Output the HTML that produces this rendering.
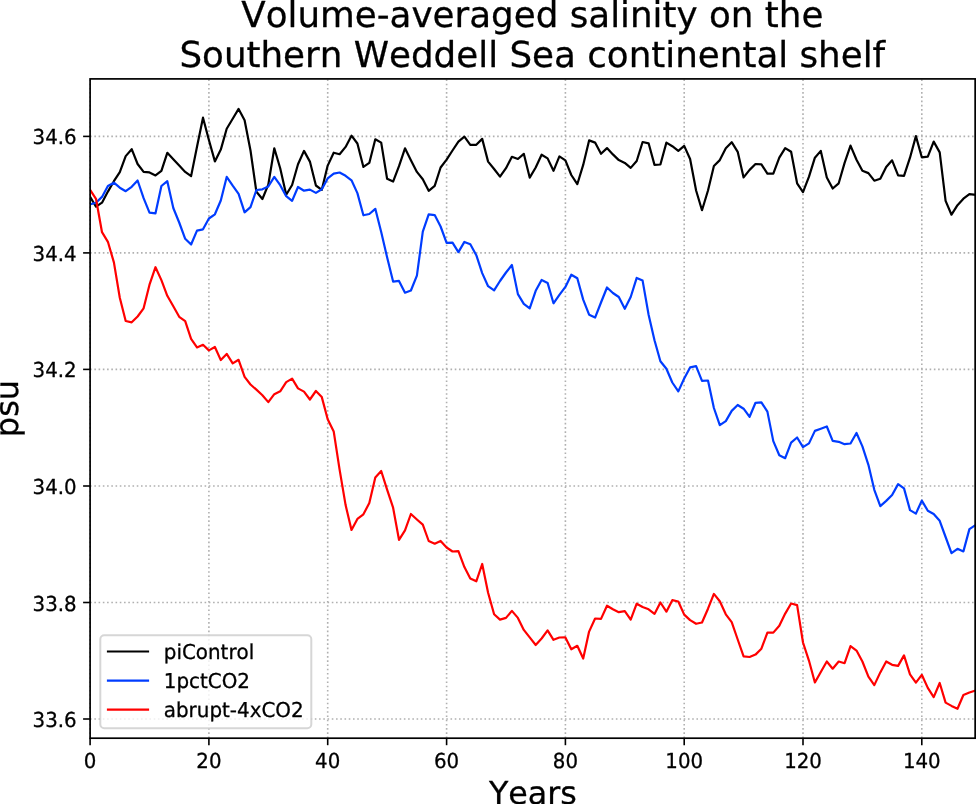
<!DOCTYPE html>
<html><head><meta charset="utf-8"><title>Volume-averaged salinity</title>
<style>html,body{margin:0;padding:0;background:#fff;overflow:hidden}svg{display:block}text{stroke:#000;stroke-width:.3px;text-rendering:geometricPrecision}</style></head>
<body>
<svg width="976" height="804" viewBox="0 0 976 804" style="display:block;font-family:'DejaVu Sans','Liberation Sans',sans-serif;font-kerning:none" stroke-linejoin="round">
<rect width="976" height="804" fill="#fff"/>
<g stroke="#b0b0b0" stroke-width="1.6" stroke-dasharray="1.6 2.64" fill="none"><line x1="90.1" y1="738.2" x2="90.1" y2="78.9"/><line x1="208.9" y1="738.2" x2="208.9" y2="78.9"/><line x1="327.7" y1="738.2" x2="327.7" y2="78.9"/><line x1="446.6" y1="738.2" x2="446.6" y2="78.9"/><line x1="565.4" y1="738.2" x2="565.4" y2="78.9"/><line x1="684.2" y1="738.2" x2="684.2" y2="78.9"/><line x1="803.0" y1="738.2" x2="803.0" y2="78.9"/><line x1="921.8" y1="738.2" x2="921.8" y2="78.9"/><line x1="90.1" y1="719.0" x2="975.15" y2="719.0"/><line x1="90.1" y1="602.5" x2="975.15" y2="602.5"/><line x1="90.1" y1="486.0" x2="975.15" y2="486.0"/><line x1="90.1" y1="369.4" x2="975.15" y2="369.4"/><line x1="90.1" y1="252.9" x2="975.15" y2="252.9"/><line x1="90.1" y1="136.4" x2="975.15" y2="136.4"/></g>
<clipPath id="c"><rect x="90.1" y="78.9" width="885.05" height="659.30"/></clipPath>
<g clip-path="url(#c)">
<polyline points="90.1,196.9 96.0,206.7 102.0,202.7 107.9,191.6 113.9,181.2 119.8,172.1 125.7,156.1 131.7,149.2 137.6,164.0 143.6,171.9 149.5,172.4 155.5,175.4 161.4,170.8 167.3,152.8 173.3,159.3 179.2,165.6 185.2,171.9 191.1,176.1 197.0,146.8 203.0,117.7 208.9,140.0 214.9,161.4 220.8,149.6 226.7,128.8 232.7,118.8 238.6,108.9 244.6,120.3 250.5,150.5 256.4,191.8 262.4,199.0 268.3,184.6 274.3,148.3 280.2,168.2 286.2,194.7 292.1,185.0 298.0,164.3 304.0,150.9 309.9,161.6 315.9,185.5 321.8,189.8 327.7,165.6 333.7,152.7 339.6,154.2 345.6,146.9 351.5,135.7 357.4,143.5 363.4,166.9 369.3,162.9 375.3,139.3 381.2,142.6 387.1,178.7 393.1,181.6 399.0,166.2 405.0,148.3 410.9,160.2 416.9,171.9 422.8,179.3 428.7,190.8 434.7,185.9 440.6,167.5 446.6,159.7 452.5,150.5 458.4,141.7 464.4,136.7 470.3,144.8 476.3,144.8 482.2,138.9 488.1,161.6 494.1,169.0 500.0,176.7 506.0,168.2 511.9,156.8 517.9,159.0 523.8,153.8 529.7,177.6 535.7,167.5 541.6,154.7 547.6,158.4 553.5,170.8 559.4,156.4 565.4,160.3 571.3,175.0 577.3,184.2 583.2,164.9 589.1,140.4 595.1,142.6 601.0,153.8 607.0,148.1 612.9,154.4 618.8,160.1 624.8,162.9 630.7,167.9 636.7,161.0 642.6,142.0 648.6,143.3 654.5,164.9 660.4,164.5 666.4,142.6 672.3,146.2 678.3,150.8 684.2,145.9 690.1,159.0 696.1,190.5 702.0,210.2 708.0,190.5 713.9,166.0 719.8,160.1 725.8,148.3 731.7,142.2 737.7,151.8 743.6,177.4 749.6,169.9 755.5,164.0 761.4,164.3 767.4,173.7 773.3,173.7 779.3,157.7 785.2,148.1 791.1,151.8 797.1,183.3 803.0,192.2 809.0,176.7 814.9,157.7 820.8,150.9 826.8,177.6 832.7,188.5 838.7,183.3 844.6,162.9 850.5,145.6 856.5,159.7 862.4,170.8 868.4,173.1 874.3,180.7 880.3,178.7 886.2,166.9 892.1,160.3 898.1,175.4 904.0,175.8 910.0,157.7 915.9,136.1 921.8,157.3 927.8,156.7 933.7,141.6 939.7,152.4 945.6,200.9 951.5,214.7 957.5,205.2 963.4,198.7 969.4,194.1 975.3,194.7" fill="none" stroke="#000" stroke-width="2.2" stroke-linejoin="round" stroke-linecap="square"/>

<polyline points="90.1,204.4 96.0,202.8 102.0,196.9 107.9,186.0 113.9,182.7 119.8,187.7 125.7,191.2 131.7,186.8 137.6,180.5 143.6,198.2 149.5,212.6 155.5,213.3 161.4,186.0 167.3,181.2 173.3,208.0 179.2,222.5 185.2,238.8 191.1,244.5 197.0,230.6 203.0,229.3 208.9,218.5 214.9,214.3 220.8,200.5 226.7,176.9 232.7,185.7 238.6,193.9 244.6,212.3 250.5,207.1 256.4,190.0 262.4,189.3 268.3,186.5 274.3,176.9 280.2,185.2 286.2,196.2 292.1,200.9 298.0,187.0 304.0,190.7 309.9,189.6 315.9,192.9 321.8,189.3 327.7,178.4 333.7,173.7 339.6,172.5 345.6,175.8 351.5,180.3 357.4,193.1 363.4,215.3 369.3,214.0 375.3,208.8 381.2,232.0 387.1,257.3 393.1,281.6 399.0,280.9 405.0,292.7 410.9,290.5 416.9,275.7 422.8,231.7 428.7,214.4 434.7,215.1 440.6,226.5 446.6,242.9 452.5,242.6 458.4,252.1 464.4,241.9 470.3,244.3 476.3,255.2 482.2,273.1 488.1,286.2 494.1,290.4 500.0,281.0 506.0,272.5 511.9,265.0 517.9,294.1 523.8,303.9 529.7,308.3 535.7,290.8 541.6,279.9 547.6,282.9 553.5,303.3 559.4,294.8 565.4,286.9 571.3,274.7 577.3,278.3 583.2,299.6 589.1,314.7 595.1,317.6 601.0,302.5 607.0,287.5 612.9,293.0 618.8,297.0 624.8,308.8 630.7,297.0 636.7,277.9 642.6,280.6 648.6,314.7 654.5,340.2 660.4,361.2 666.4,368.7 672.3,382.5 678.3,391.4 684.2,378.5 690.1,367.4 696.1,366.1 702.0,380.9 708.0,380.5 713.9,408.0 719.8,425.1 725.8,421.1 731.7,410.9 737.7,405.0 743.6,408.7 749.6,416.8 755.5,402.8 761.4,402.4 767.4,411.6 773.3,441.1 779.3,455.2 785.2,458.2 791.1,442.7 797.1,437.5 803.0,447.1 809.0,443.4 814.9,430.9 820.8,428.7 826.8,426.5 832.7,440.9 838.7,441.8 844.6,444.2 850.5,443.5 856.5,433.0 862.4,446.4 868.4,464.8 874.3,489.8 880.3,506.1 886.2,500.9 892.1,495.0 898.1,484.1 904.0,488.4 910.0,510.1 915.9,513.6 921.8,500.6 927.8,510.7 933.7,514.0 939.7,520.8 945.6,537.0 951.5,553.1 957.5,548.8 963.4,551.4 969.4,529.1 975.3,525.2" fill="none" stroke="#003cff" stroke-width="2.2" stroke-linejoin="round" stroke-linecap="square"/>

<polyline points="90.1,189.9 96.0,198.8 102.0,232.2 107.9,241.8 113.9,262.4 119.8,297.8 125.7,321.0 131.7,322.3 137.6,316.5 143.6,308.3 149.5,284.7 155.5,267.2 161.4,280.1 167.3,295.8 173.3,306.3 179.2,316.8 185.2,321.1 191.1,338.9 197.0,347.4 203.0,344.8 208.9,350.4 214.9,347.0 220.8,360.1 226.7,353.9 232.7,363.4 238.6,359.8 244.6,376.9 250.5,384.5 256.4,389.7 262.4,395.2 268.3,402.1 274.3,394.2 280.2,391.3 286.2,382.1 292.1,378.6 298.0,388.4 304.0,391.6 309.9,399.5 315.9,391.0 321.8,397.1 327.7,419.2 333.7,431.4 339.6,469.7 345.6,505.1 351.5,530.0 357.4,518.9 363.4,514.3 369.3,503.1 375.3,477.5 381.2,471.0 387.1,489.6 393.1,507.7 399.0,539.8 405.0,530.3 410.9,514.0 416.9,519.5 422.8,524.7 428.7,541.0 434.7,543.7 440.6,540.9 446.6,547.5 452.5,551.5 458.4,551.1 464.4,567.1 470.3,578.4 476.3,581.3 482.2,564.0 488.1,592.7 494.1,614.2 500.0,619.6 506.0,617.9 511.9,610.9 517.9,617.9 523.8,629.9 529.7,637.4 535.7,645.0 541.6,638.5 547.6,630.3 553.5,639.8 559.4,637.5 565.4,637.4 571.3,649.3 577.3,645.8 583.2,658.5 589.1,631.6 595.1,618.5 601.0,618.9 607.0,605.7 612.9,609.3 618.8,612.2 624.8,611.2 630.7,619.6 636.7,603.7 642.6,607.0 648.6,609.3 654.5,613.9 660.4,602.5 666.4,611.7 672.3,600.2 678.3,601.5 684.2,614.6 690.1,620.1 696.1,623.8 702.0,622.5 708.0,608.7 713.9,593.9 719.8,601.2 725.8,614.3 731.7,622.2 737.7,639.5 743.6,656.3 749.6,657.0 755.5,654.6 761.4,648.7 767.4,632.6 773.3,632.6 779.3,625.7 785.2,613.6 791.1,603.5 797.1,605.1 803.0,642.5 809.0,660.8 814.9,682.5 820.8,672.0 826.8,661.5 832.7,668.7 838.7,661.5 844.6,663.2 850.5,646.1 856.5,650.6 862.4,661.5 868.4,676.6 874.3,685.1 880.3,672.4 886.2,661.5 892.1,664.8 898.1,665.9 904.0,655.4 910.0,674.4 915.9,682.6 921.8,674.8 927.8,687.9 933.7,697.1 939.7,683.0 945.6,702.6 951.5,705.9 957.5,708.8 963.4,695.0 969.4,692.5 975.3,690.6" fill="none" stroke="#ff0000" stroke-width="2.2" stroke-linejoin="round" stroke-linecap="square"/>

</g>
<rect x="90.1" y="78.9" width="885.05" height="659.30" fill="none" stroke="#000" stroke-width="1.7" stroke-linejoin="miter"/>
<g stroke="#000" stroke-width="1.6"><line x1="90.1" y1="738.2" x2="90.1" y2="745.2"/><line x1="208.9" y1="738.2" x2="208.9" y2="745.2"/><line x1="327.7" y1="738.2" x2="327.7" y2="745.2"/><line x1="446.6" y1="738.2" x2="446.6" y2="745.2"/><line x1="565.4" y1="738.2" x2="565.4" y2="745.2"/><line x1="684.2" y1="738.2" x2="684.2" y2="745.2"/><line x1="803.0" y1="738.2" x2="803.0" y2="745.2"/><line x1="921.8" y1="738.2" x2="921.8" y2="745.2"/><line x1="90.1" y1="719.0" x2="83.1" y2="719.0"/><line x1="90.1" y1="602.5" x2="83.1" y2="602.5"/><line x1="90.1" y1="486.0" x2="83.1" y2="486.0"/><line x1="90.1" y1="369.4" x2="83.1" y2="369.4"/><line x1="90.1" y1="252.9" x2="83.1" y2="252.9"/><line x1="90.1" y1="136.4" x2="83.1" y2="136.4"/></g>
<g font-size="19.8" fill="#000">
<text transform="translate(90.1,767.5) scale(1,1.04)" text-anchor="middle">0</text>
<text transform="translate(208.9,767.5) scale(1,1.04)" text-anchor="middle">20</text>
<text transform="translate(327.7,767.5) scale(1,1.04)" text-anchor="middle">40</text>
<text transform="translate(446.6,767.5) scale(1,1.04)" text-anchor="middle">60</text>
<text transform="translate(565.4,767.5) scale(1,1.04)" text-anchor="middle">80</text>
<text transform="translate(684.2,767.5) scale(1,1.04)" text-anchor="middle">100</text>
<text transform="translate(803.0,767.5) scale(1,1.04)" text-anchor="middle">120</text>
<text transform="translate(921.8,767.5) scale(1,1.04)" text-anchor="middle">140</text>
<text transform="translate(76.6,727.0) scale(1,1.04)" text-anchor="end">33.6</text>
<text transform="translate(76.6,610.5) scale(1,1.04)" text-anchor="end">33.8</text>
<text transform="translate(76.6,494.0) scale(1,1.04)" text-anchor="end">34.0</text>
<text transform="translate(76.6,377.4) scale(1,1.04)" text-anchor="end">34.2</text>
<text transform="translate(76.6,260.9) scale(1,1.04)" text-anchor="end">34.4</text>
<text transform="translate(76.6,144.4) scale(1,1.04)" text-anchor="end">34.6</text>
</g>
<text x="532.8" y="804" text-anchor="middle" font-size="31.7">Years</text>
<text transform="translate(18.3,408.5) rotate(-90)" text-anchor="middle" font-size="32">psu</text>
<text x="532.3" y="27.3" text-anchor="middle" font-size="35.7">Volume-averaged salinity on the</text>
<text x="532.3" y="67" text-anchor="middle" font-size="35.7">Southern Weddell Sea continental shelf</text>
<rect x="100.3" y="635.2" width="211" height="93" rx="4" ry="4" fill="#fff" fill-opacity="0.8" stroke="#ccc" stroke-opacity="0.8" stroke-width="2"/>
<line x1="108" y1="651.5" x2="148" y2="651.5" stroke="#000" stroke-width="2.2" stroke-linecap="square"/>
<text transform="translate(163.8,659.0) scale(1,1.03)" font-size="19.9">piControl</text>
<line x1="108" y1="680.6" x2="148" y2="680.6" stroke="#003cff" stroke-width="2.2" stroke-linecap="square"/>
<text transform="translate(163.8,688.1) scale(1,1.03)" font-size="19.9">1pctCO2</text>
<line x1="108" y1="709.6" x2="148" y2="709.6" stroke="#ff0000" stroke-width="2.2" stroke-linecap="square"/>
<text transform="translate(163.8,717.1) scale(1,1.03)" font-size="19.9">abrupt-4xCO2</text>
</svg>
</body></html>
